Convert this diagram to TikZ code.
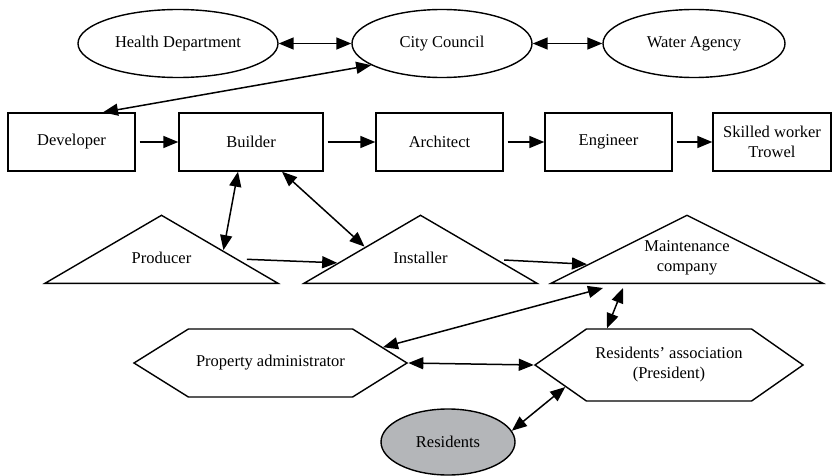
\documentclass[tikz,border=0pt]{standalone}
\usepackage{fontspec}
\setmainfont{Liberation Serif}
\usetikzlibrary{shapes.geometric,shapes.symbols,arrows.meta,calc}
\definecolor{resgray}{RGB}{180,182,185}

\begin{document}
\begin{tikzpicture}[x=1pt,y=-1pt,font=\fontsize{16.5}{20}\selectfont]
	\tikzstyle{oval}  = [draw, ellipse, line width=1.4pt, minimum height=68pt, inner sep=0pt]
	\tikzstyle{box}   = [draw, rectangle, line width=1.4pt, minimum width=127pt, minimum height=58pt, inner sep=0pt, align=center]
	\tikzstyle{tri}   = [draw, isosceles triangle, isosceles triangle stretches, shape border rotate=90, line width=1.4pt, minimum height=68pt, inner sep=0pt, anchor=lower side]
	\tikzstyle{tritext} = [align=center]
	\tikzstyle{hexa}  = [draw, signal, signal to=west and east, line width=1.4pt, inner sep=0pt, align=center]
	\tikzstyle{one}   = [line width=1.5pt, -{Triangle[length=15pt,width=12pt]}]
	\tikzstyle{both}  = [line width=1.5pt, {Triangle[length=15pt,width=12pt]}-{Triangle[length=15pt,width=12pt]}]

	\useasboundingbox (0,0) rectangle (832,476);

	% agencies
	\node[oval, minimum width=200pt] (health) at (178,43.5) {Health Department};
	\node[oval, minimum width=180pt] (city) at (442,43.5) {City Council};
	\node[oval, minimum width=182pt] (water) at (694,43.5) {Water Agency};

	% building chain
	\node[box] (dev) at (71.5,142) {Developer};
	\node[box, minimum width=144pt] (builder) at (251,142) {Builder};
	\node[box] (arch) at (439.5,142) {Architect};
	\node[box] (eng) at (608.5,142) {Engineer};
	\node[box, minimum width=118pt] (skilled) at (772,142) {Skilled worker\\Trowel};

	% suppliers
	\node[tri, minimum width=233pt] (prod) at (161.5,284) {};
	\node[tri, minimum width=233pt] (inst) at (420.5,284) {};
	\node[tri, minimum width=272pt] (maint) at (687,284) {};
	\node[tritext] (prodtext) at ($(prod.lower side)+(0,-26)$) {Producer};
	\node[tritext] (insttext) at ($(inst.lower side)+(0,-26)$) {Installer};
	\node[tritext] (mainttext) at ($(maint.lower side)+(0,-26)$) {Maintenance\\company};

	% users
	\node[hexa, minimum width=273pt, minimum height=68pt, signal pointer angle=64] (pa) at (270.5,363) {Property administrator};
	\node[hexa, minimum width=268pt, minimum height=72pt, signal pointer angle=70] (ra) at (669,365) {Residents’ association\\(President)};
	\node[oval, fill=resgray, minimum width=134pt, minimum height=66pt] (res) at (448,442) {Residents};

	\draw[both] (health) -- (city);
	\draw[both] (city) -- (water);
	\draw[both] (city.197) -- ([xshift=31.5pt]dev.north);
	\foreach \a/\b in {dev/builder, builder/arch, arch/eng, eng/skilled}
		\draw[one, shorten <=4pt] (\a) -- (\b);
	\draw[both] ([xshift=-13pt]builder.south) -- ($(prod.apex)!0.52!(prod.right corner)$);
	\draw[both] ([xshift=31pt]builder.south) -- ($(inst.apex)!0.47!(inst.left corner)$);
	\draw[one] ($(prod.apex)!0.65!(prod.right corner)+(8,0)$) -- ($(inst.apex)!0.7!(inst.left corner)$);
	\draw[one] ($(inst.apex)!0.66!(inst.right corner)+(5,0)$) -- ($(maint.apex)!0.72!(maint.left corner)$);
	\draw[both] ($(maint.lower side)+(-84,4)$) -- (pa.8);
	\draw[both] ($(maint.lower side)+(-64,4)$) -- ([xshift=-62pt]ra.north);
	\draw[both] (pa.east) -- (ra.west);
	\draw[both] (res.10) -- (ra.192);
\end{tikzpicture}
\end{document}
